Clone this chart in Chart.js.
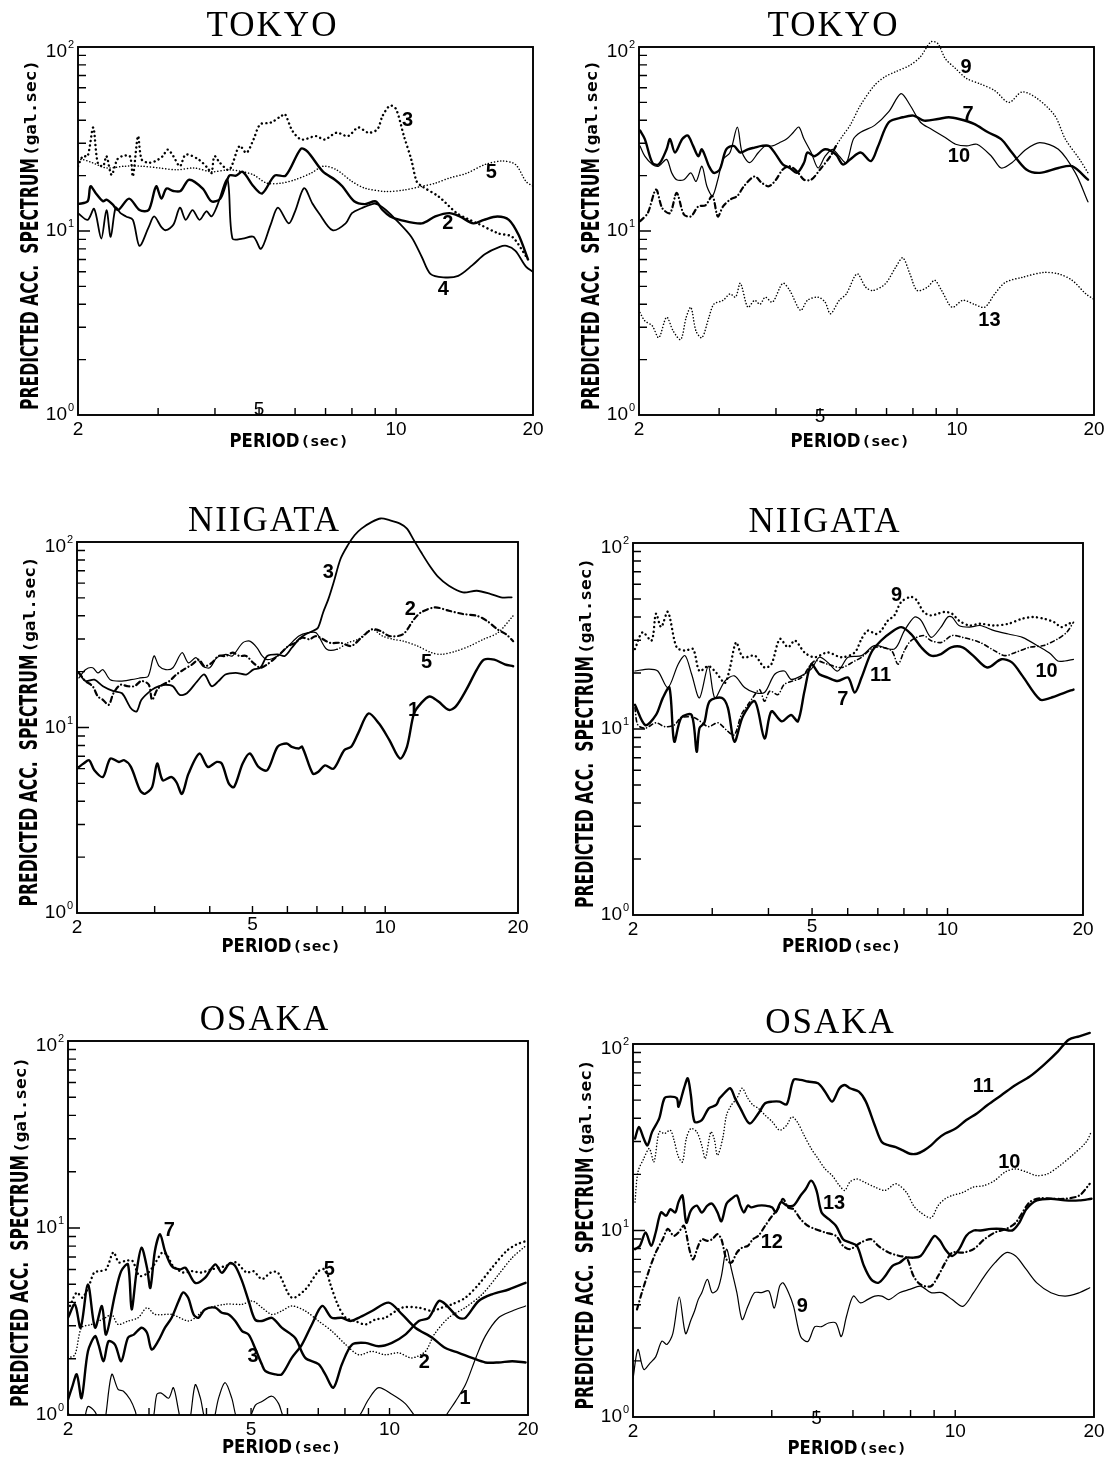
<!DOCTYPE html>
<html>
<head>
<meta charset="utf-8">
<title>Predicted acceleration spectra - Tokyo, Niigata, Osaka</title>
<script src="https://cdn.jsdelivr.net/npm/chart.js@4.4.1/dist/chart.umd.min.js"></script>
<style>
    html, body { margin: 0; padding: 0; background: #fff; }
    #figure { position: relative; width: 1110px; height: 1469px; overflow: hidden; background: #fff; }
    #figure canvas { position: absolute; }
</style>
</head>
<body>
<div id="figure"></div>
<script>
// Axis ticks shared by all six panels (log-log, period 2-20 s, spectrum 1-100 gal.sec)
const periodTicks = [2, 5, 10, 20];
const periodMinorTicks = [3, 4, 5, 6, 7, 8, 9, 10];
const accTicks = [1, 10, 100];
const accTickLabels = [['10', '0'], ['10', '1'], ['10', '2']];
const accMinorTicks = [2, 3, 4, 5, 6, 7, 8, 9, 10, 20, 30, 40, 50, 60, 70, 80, 90];

// Values are [period (sec), spectrum (gal.sec)].

// TOKYO, left
const tokyoA2 = [[2.0,14],[2.1,14.5],[2.13,17.5],[2.19,16],[2.27,14.5],[2.31,14.8],[2.38,14],[2.45,13],[2.59,15],[2.73,13],[2.86,13],[2.97,17.5],[3.05,15],[3.13,17],[3.24,16.5],[3.36,16.5],[3.51,19],[3.76,17],[3.93,14.5],[4.11,15],[4.3,20],[4.45,20],[4.6,21],[4.86,17.5],[5.08,16],[5.41,20],[5.72,20],[6.18,28],[6.39,27],[6.91,21],[7.34,19],[7.62,17.5],[8.09,14.5],[8.54,14],[9.02,14.5],[9.34,13],[9.71,12],[10.2,11.5],[11.4,11],[12.2,12],[13.1,12.5],[13.8,12],[14.8,11],[15.6,11.5],[16.7,12],[17.7,11.5],[18.6,9.5],[19.5,7]];
const tokyoA3 = [[2.0,22.5],[2.05,25.5],[2.1,25.5],[2.16,36.5],[2.21,23.5],[2.27,22.5],[2.31,25.5],[2.37,20.2],[2.44,24.5],[2.5,25.5],[2.6,25.5],[2.64,19.8],[2.71,32.8],[2.76,24.5],[2.86,23.5],[2.96,24],[3.07,25.5],[3.15,27.7],[3.24,25.5],[3.35,22.5],[3.45,26],[3.68,24.5],[3.86,21.9],[3.93,20.6],[3.99,25.5],[4.1,23.5],[4.3,21.5],[4.53,29],[4.69,26.6],[4.86,31.4],[5.03,38],[5.3,38.8],[5.6,42.2],[5.7,43.2],[5.92,35],[6.2,31.4],[6.67,32.8],[6.96,31.4],[7.4,34.2],[7.84,32.8],[8.26,36.5],[8.7,34.2],[9.1,35.7],[9.34,42.2],[9.7,48],[10.0,46],[10.4,33],[10.8,24.5],[11.1,18.6],[11.4,17.5],[12.4,15.4],[13.6,12.5],[14.3,11.7],[15.1,11],[16.8,9.7],[18.0,9.3],[19.3,7.3]];
const tokyoA4 = [[2.0,12.5],[2.1,11.5],[2.17,13.2],[2.25,9.1],[2.31,13],[2.36,9.3],[2.42,13.4],[2.48,12.5],[2.55,12],[2.64,11.5],[2.73,8.3],[2.86,10.5],[2.94,12],[3.05,10.5],[3.12,10.1],[3.24,10.8],[3.35,13.4],[3.45,11.5],[3.57,13],[3.7,11.5],[3.83,12.8],[3.93,12],[4.03,13.4],[4.26,19],[4.37,9.1],[4.6,9.1],[4.86,9.3],[5.05,8],[5.3,10.8],[5.5,13.4],[5.81,11],[6.0,12.8],[6.28,17.1],[6.55,14.1],[6.77,12.5],[7.25,10.1],[7.75,11],[8.0,12.5],[8.4,13.3],[8.95,14.1],[9.2,13.8],[9.5,13],[10,11.5],[10.8,9.3],[11.4,7.2],[11.9,5.85],[12.7,5.6],[13.7,5.7],[14.7,6.5],[15.7,7.5],[16.9,8.2],[17.5,8.3],[18.3,7.8],[19.3,6.4],[20,6.0]];
const tokyoA5 = [[2.0,24],[2.04,24.5],[2.15,23.5],[2.31,22],[2.53,22.5],[2.76,22.5],[3.02,22],[3.29,21.5],[3.6,22],[3.93,21],[4.3,21.5],[4.6,21],[4.86,20.2],[5.2,18.2],[5.6,18.2],[6.0,19],[6.5,20.6],[6.93,22.5],[7.4,21.5],[8.0,18.6],[8.54,17.1],[9.5,16.4],[10.4,16.7],[11.4,17.5],[12.2,18.2],[13.1,19.4],[14.3,20.6],[15.7,23],[17.1,24],[18.3,23],[19.3,18.6],[20,17.5]];
const tokyoALabels = [['3', 10.6, 40], ['2', 13, 11], ['5', 16.2, 20.7], ['4', 12.7, 4.84]];

// TOKYO, right
const tokyoB7 = [[2.01,35.2],[2.06,31.6],[2.14,23.5],[2.21,23],[2.3,27.8],[2.34,31.6],[2.4,26.7],[2.49,31.6],[2.56,33],[2.63,29],[2.7,25.5],[2.75,27.8],[2.85,22.5],[2.92,20.7],[3.01,21.6],[3.11,27.8],[3.23,29],[3.34,26.7],[3.47,27.8],[3.59,28.4],[3.72,29],[3.86,29],[4.0,26],[4.14,23],[4.29,22],[4.45,20.7],[4.61,23.5],[4.69,26.7],[4.86,25.5],[5.13,27.8],[5.42,26],[5.61,23],[5.82,24.5],[6.14,26.7],[6.47,24],[6.71,29],[7.08,39],[7.6,41.5],[8.02,42.4],[8.46,39.8],[9.08,40.6],[9.59,41.5],[10.1,40.6],[10.9,38.2],[11.7,34.4],[12.5,31.6],[13.2,26.7],[14.2,21.6],[15.2,20.7],[16.7,22],[17.9,22.5],[19.4,19]];
const tokyoB9 = [[2.01,11.3],[2.09,12.5],[2.18,16.8],[2.25,13.3],[2.34,12.5],[2.42,16.1],[2.51,12.3],[2.6,12],[2.7,13.6],[2.8,13.8],[2.9,15.5],[2.98,12],[3.06,13.6],[3.17,14.8],[3.29,15.5],[3.4,17.5],[3.59,19.8],[3.72,18.3],[3.86,17.5],[4.0,19],[4.14,21.6],[4.29,22.5],[4.45,21.1],[4.61,19],[4.78,19],[5.0,21.6],[5.27,25.5],[5.42,29],[5.61,33],[5.82,37.5],[6.14,48.4],[6.59,62],[6.95,69],[7.33,73.4],[7.88,79.6],[8.31,88.5],[8.77,106.8],[9.08,104.2],[9.42,86.6],[9.93,76.3],[10.5,67.4],[11.25,63],[12.1,58],[13,50],[13.9,57],[15,52.5],[16.4,42.4],[17.3,31.6],[18.6,24.5],[19.4,20.7]];
const tokyoB10 = [[2.01,29],[2.06,25.5],[2.14,23],[2.21,22.5],[2.3,24.5],[2.36,20.7],[2.42,19],[2.51,19],[2.6,20.7],[2.67,18.6],[2.75,22.5],[2.82,17.5],[2.9,15.5],[2.98,19],[3.06,24.5],[3.17,26.7],[3.29,36.7],[3.37,26.7],[3.5,23.5],[3.66,26.7],[3.79,29],[3.93,29],[4.07,30.2],[4.22,31.6],[4.37,34.4],[4.49,36.7],[4.61,31.6],[4.78,26.7],[4.95,22],[5.13,25.5],[5.32,27.8],[5.51,25.5],[5.71,23.5],[5.92,31.6],[6.14,34.4],[6.59,37.5],[7.08,44.5],[7.53,55.8],[7.88,48.4],[8.31,39],[8.77,35.8],[9.42,32.2],[9.93,29.6],[10.5,29],[11.06,29.6],[11.9,25.5],[12.5,22],[13.2,23.5],[14.2,27.8],[15.2,30.2],[16.7,27.8],[18.2,20.7],[19.4,14.4]];
const tokyoB13 = [[2.01,3.6],[2.06,3.25],[2.14,3.05],[2.21,2.63],[2.3,3.4],[2.38,2.85],[2.47,2.57],[2.54,3.4],[2.6,3.85],[2.67,2.85],[2.75,2.63],[2.85,3.4],[2.92,4.0],[3.06,4.2],[3.17,4.55],[3.26,4.37],[3.34,5.2],[3.47,3.85],[3.59,4.2],[3.69,4.0],[3.79,4.37],[3.93,4.1],[4.14,5.2],[4.29,4.75],[4.53,3.7],[4.69,4.2],[4.95,4.37],[5.13,4.1],[5.27,3.55],[5.51,4.2],[5.71,4.55],[6.03,5.85],[6.3,4.95],[6.53,4.75],[6.95,5.15],[7.33,6.35],[7.6,7.15],[7.88,5.85],[8.17,4.75],[8.61,4.95],[8.93,5.4],[9.25,4.75],[9.75,3.85],[10.3,4.2],[10.9,4.0],[11.5,3.85],[12.1,4.55],[12.76,5.25],[13.9,5.6],[15.5,5.95],[16.7,5.85],[17.9,5.4],[19.2,4.55],[20,4.25]];
const tokyoBLabels = [['9', 10.47, 77.6], ['7', 10.57, 43.1], ['10', 10.1, 25.5], ['13', 11.78, 3.25]];

// NIIGATA, left
const niigataA1 = [[2.02,6.13],[2.07,6.39],[2.13,6.66],[2.19,5.88],[2.29,5.41],[2.38,6.8],[2.49,6.52],[2.56,6.66],[2.65,6.13],[2.78,4.58],[2.85,4.39],[2.96,4.77],[3.04,6.39],[3.13,5.19],[3.27,5.41],[3.36,5.08],[3.46,4.39],[3.58,5.64],[3.79,7.24],[3.96,6.13],[4.15,6.52],[4.26,6.39],[4.42,4.98],[4.54,4.77],[4.75,6.39],[4.93,7.24],[5.16,6.13],[5.4,5.88],[5.7,7.87],[5.97,8.2],[6.14,7.87],[6.37,7.71],[6.48,7.87],[6.85,5.64],[7.04,5.75],[7.3,6.25],[7.64,6.0],[8.07,7.55],[8.37,7.87],[8.68,9.3],[9.16,11.9],[9.68,10.5],[10.22,8.55],[10.8,6.8],[11.2,7.87],[11.62,11.9],[12.05,13.5],[12.6,14.7],[13.2,13.8],[13.94,12.45],[14.46,13],[15.27,16],[16.13,20.5],[16.73,23.2],[17.67,23.2],[18.67,21.9],[19.5,21.4]];
const niigataA2 = [[2.02,19.7],[2.09,17.8],[2.17,16.7],[2.23,14.7],[2.29,14.1],[2.36,13.25],[2.42,15.3],[2.51,17],[2.6,16.7],[2.7,16.7],[2.8,17.8],[2.91,17],[2.96,14.1],[3.04,16],[3.13,17],[3.24,17.8],[3.36,19.3],[3.49,20.5],[3.65,21.9],[3.78,23.2],[3.89,21.4],[4.04,22.3],[4.19,24.3],[4.35,24.3],[4.51,25.3],[4.67,24.3],[4.84,24.3],[5.02,22.3],[5.21,21],[5.4,21.9],[5.64,23.8],[5.81,25.3],[6.03,27.5],[6.25,28.6],[6.48,30.5],[6.73,29.9],[6.97,31.1],[7.5,28.6],[7.92,28.6],[8.37,27.5],[8.83,30.5],[9.33,33.8],[9.77,33.1],[10.22,31.1],[10.97,31.8],[11.62,38.3],[12.05,41.7],[12.96,44.4],[13.94,42.6],[15.0,40.9],[16.13,40],[17.0,37.6],[17.97,33.8],[18.8,31.8],[19.5,29.2]];
const niigataA3 = [[2.02,19.7],[2.09,17.8],[2.19,18.1],[2.29,16.7],[2.42,15.7],[2.53,15.3],[2.65,12.7],[2.73,12.2],[2.8,14.1],[2.96,16],[3.07,16.7],[3.18,17],[3.3,16.7],[3.42,15],[3.55,15.3],[3.75,17.8],[3.89,19.3],[4.04,16.7],[4.19,17.8],[4.34,19.3],[4.58,19.7],[4.84,19.3],[5.02,20.5],[5.21,21],[5.4,24.3],[5.7,24.8],[5.92,24.3],[6.14,26.9],[6.37,29.9],[6.6,31.8],[6.85,33.1],[7.04,34.5],[7.23,41.7],[7.43,49.2],[7.64,60.7],[7.92,81.2],[8.22,95.9],[8.52,108.7],[8.83,118.1],[9.33,128.4],[9.77,133.9],[10.22,131.1],[10.8,125.7],[11.2,118.1],[11.62,102],[12.05,88.3],[12.6,74.7],[13.2,64.6],[13.94,58.1],[15.0,53.5],[16.13,54.6],[17.35,52.4],[18.3,50.3],[19.35,50.3]];
const niigataA5 = [[2.02,18.5],[2.09,20.5],[2.17,21],[2.23,19.7],[2.29,20.5],[2.38,18.1],[2.51,17.8],[2.65,18.1],[2.78,18.5],[2.9,18.9],[2.99,24.3],[3.07,21.4],[3.18,20.5],[3.3,21],[3.46,25.3],[3.58,22.3],[3.72,23.8],[3.86,21.4],[4.0,21],[4.15,23.8],[4.35,24.8],[4.5,24.3],[4.75,28.6],[4.93,29.2],[5.12,26.9],[5.26,24.3],[5.4,23.2],[5.7,24.3],[6.03,27.5],[6.37,31.1],[6.66,32.4],[6.97,32.4],[7.37,26.4],[7.78,26.4],[8.22,28.6],[8.68,29.9],[9.33,33.8],[9.86,31.1],[10.41,29.9],[11.0,29.2],[11.83,27.5],[12.73,25.3],[13.44,24.8],[14.46,25.8],[15.55,27.5],[16.7,29.9],[18.0,32.4],[19.5,40]];
const niigataALabels = [['3', 7.43, 68.7], ['2', 11.4, 43.5], ['5', 12.4, 22.3], ['1', 11.6, 12.4]];

// NIIGATA, right
const niigataB7 = [[2.02,13.5],[2.13,10.5],[2.25,11.9],[2.33,14.7],[2.41,16.7],[2.47,8.55],[2.56,11.5],[2.7,11.9],[2.77,7.55],[2.81,10.1],[2.88,10.8],[2.96,14.1],[3.15,14.7],[3.25,13],[3.36,8.55],[3.51,11.7],[3.73,14.1],[3.92,8.9],[4.06,12.45],[4.28,11],[4.49,11.9],[4.65,11],[4.81,16],[4.98,22.3],[5.19,19.7],[5.42,18.9],[5.7,18.1],[6.01,18.9],[6.22,15.7],[6.44,18.9],[6.77,25.8],[7.12,29.9],[7.5,33.1],[7.89,35.3],[8.3,32.4],[8.74,27.5],[9.19,24.8],[9.67,25.3],[10.19,27.5],[10.8,27.5],[11.4,24.8],[12.25,21.4],[13.17,23.7],[13.9,22.8],[14.67,19.3],[16.05,14.4],[16.95,14.7],[18.23,15.7],[19.05,16.3]];
const niigataB9 = [[2.02,26.9],[2.1,33.1],[2.2,29.9],[2.25,41.7],[2.31,35.3],[2.39,42.6],[2.5,27.5],[2.61,26.4],[2.72,26.9],[2.81,20.5],[2.94,21.8],[3.06,20.1],[3.2,17.7],[3.28,21],[3.39,29.2],[3.51,24.3],[3.73,24.8],[3.92,21.4],[4.06,22.3],[4.24,30.5],[4.42,27.5],[4.58,29.9],[4.81,25.8],[5.06,24.3],[5.42,25.8],[5.81,24.3],[6.22,25.8],[6.44,30.5],[6.65,33.8],[6.94,32.4],[7.12,33.8],[7.37,38.3],[7.62,40.8],[7.89,48.2],[8.3,51.3],[8.54,49.2],[8.85,42.6],[9.18,40.8],[9.52,41.7],[9.86,42.6],[10.23,41.7],[10.6,38.3],[11.19,36],[11.81,36.8],[12.7,36],[13.65,36.8],[14.67,39.2],[15.49,40],[16.35,39.2],[17.27,37.5],[17.9,35.3],[18.56,36.8],[19.05,37.5]];
const niigataB10 = [[2.02,20.5],[2.17,21],[2.27,20.5],[2.39,16.7],[2.52,22.3],[2.61,24.8],[2.7,19.7],[2.81,14.7],[2.94,21.8],[3.04,14.7],[3.2,18.1],[3.36,19.3],[3.54,16.7],[3.73,15.7],[3.92,15.7],[4.13,19.7],[4.34,20.5],[4.49,18.5],[4.73,19.3],[4.98,21],[5.19,24.3],[5.42,22.8],[5.7,20.5],[6.01,24.3],[6.44,24.8],[6.88,28.1],[7.62,26.9],[8.02,33.8],[8.45,40],[8.74,38.3],[9.19,31.1],[9.67,35.3],[10.01,40],[10.23,40],[10.6,36],[11.19,35.3],[11.81,36],[12.7,33.8],[13.65,32.4],[14.67,31.1],[16.05,27.5],[16.95,25.3],[17.58,23.2],[18.23,23.2],[19.05,23.7]];
const niigataB11 = [[2.02,13],[2.05,10.5],[2.13,10.1],[2.25,10.8],[2.35,10.3],[2.47,10.5],[2.56,11.5],[2.74,11.5],[2.94,10.3],[3.09,10.8],[3.25,9.7],[3.36,9.3],[3.48,11.9],[3.6,13.5],[3.69,14.7],[3.82,16.3],[3.92,14.1],[4.03,16],[4.2,15.3],[4.34,17.4],[4.73,18.9],[5.06,23.2],[5.42,22.3],[5.81,21.4],[6.22,23.2],[6.44,24.3],[6.88,27.5],[7.5,26.4],[7.76,22.3],[8.02,26.4],[8.3,29.9],[8.85,31.8],[9.18,29.9],[9.69,29.2],[10.23,31.8],[10.8,31.1],[11.81,29.2],[12.7,26.4],[13.41,24.8],[14.15,25.8],[15.21,27.5],[16.35,28.1],[17.58,30.5],[18.4,33.1],[19.05,37.5]];
const niigataBLabels = [['9', 7.7, 52], ['10', 16.6, 20.5], ['7', 5.85, 14.4], ['11', 7.1, 19.3]];

// OSAKA, left (curve 1 dips below the frame and is clipped there)
const osakaA1 = [[2.0,1.02],[2.15,0.9],[2.21,1.11],[2.29,1.04],[2.38,0.85],[2.41,0.95],[2.49,1.65],[2.57,1.37],[2.64,1.34],[2.73,1.21],[2.8,1.05],[2.87,0.85],[3.04,0.9],[3.12,1.29],[3.19,1.31],[3.31,1.23],[3.39,1.4],[3.48,1.05],[3.53,0.9],[3.65,0.85],[3.78,1.45],[3.88,1.23],[3.97,0.95],[4.1,0.85],[4.25,1.23],[4.39,1.49],[4.54,1.23],[4.66,0.95],[4.85,0.85],[5.11,1.13],[5.28,1.18],[5.55,1.26],[5.74,1.15],[5.88,0.98],[6.2,0.85],[8.0,0.85],[8.57,0.98],[9.0,1.21],[9.47,1.4],[10.12,1.29],[10.82,1.15],[11.38,0.98],[12.0,0.85],[12.9,0.85],[13.23,0.98],[13.9,1.18],[14.62,1.45],[15.4,2.02],[16.15,2.64],[17.26,3.31],[18.48,3.6],[19.76,3.83]];
const osakaA2 = [[2.0,2.02],[2.07,2.1],[2.14,2.93],[2.25,3.05],[2.41,3.31],[2.49,3.45],[2.57,3.05],[2.7,3.18],[2.84,3.31],[2.97,3.75],[3.09,3.45],[3.36,3.45],[3.65,3.18],[3.78,3.31],[3.97,3.67],[4.39,3.91],[4.78,3.91],[5.04,4.07],[5.28,3.75],[5.55,3.45],[5.83,3.6],[6.13,3.83],[6.56,3.6],[7.01,3.18],[7.49,2.81],[8.03,2.38],[8.57,2.1],[9.16,2.19],[9.78,2.1],[10.46,2.15],[11.18,2.02],[11.97,2.19],[12.5,2.69],[13.44,3.31],[14.6,3.75],[15.9,4.42],[17.26,5.64],[18.48,6.94],[19.76,8.02]];
const osakaA3 = [[2.0,1.21],[2.04,1.4],[2.09,1.65],[2.14,1.23],[2.21,2.19],[2.29,2.64],[2.33,2.38],[2.39,1.94],[2.45,2.48],[2.53,2.38],[2.61,1.94],[2.7,2.59],[2.78,2.69],[2.89,2.93],[2.97,2.75],[3.04,2.24],[3.14,2.48],[3.25,2.93],[3.36,3.31],[3.48,4.07],[3.56,4.52],[3.65,4.24],[3.75,3.45],[3.84,3.31],[3.97,3.67],[4.18,3.75],[4.32,3.52],[4.47,3.45],[4.62,3.18],[4.78,2.81],[4.94,2.69],[5.1,2.28],[5.28,1.86],[5.37,1.72],[5.64,1.65],[5.83,1.65],[6.13,2.02],[6.45,2.38],[6.78,3.05],[7.14,3.83],[7.49,3.31],[7.88,3.31],[8.22,3.18],[8.57,3.31],[9.16,3.6],[9.96,3.99],[10.65,3.45],[11.38,2.93],[12.38,2.59],[13.23,2.28],[14.14,2.15],[15.11,2.02],[16.15,1.91],[17.26,1.91],[18.48,1.94],[19.76,1.91]];
const osakaA5 = [[2.02,3.83],[2.09,4.52],[2.15,4.24],[2.22,4.9],[2.28,5.78],[2.34,5.88],[2.42,6.0],[2.51,7.41],[2.58,6.55],[2.67,6.68],[2.76,6.68],[2.86,5.55],[2.99,5.78],[3.1,6.55],[3.21,7.41],[3.29,7.11],[3.38,6.28],[3.56,5.78],[3.72,5.88],[3.89,5.78],[4.1,6.0],[4.4,6.26],[4.63,6.55],[4.89,5.78],[5.06,5.88],[5.28,5.33],[5.52,5.78],[5.72,5.78],[6.13,4.24],[6.56,4.69],[7.01,5.88],[7.25,6.0],[7.44,4.99],[7.71,3.91],[8.03,3.31],[8.42,3.18],[8.86,3.05],[9.31,3.24],[9.78,3.31],[10.65,3.75],[11.58,3.75],[12.38,3.6],[12.99,3.75],[13.68,3.91],[14.62,4.24],[15.62,4.99],[16.7,6.13],[17.96,7.53],[18.87,8.16],[19.76,8.5]];
const osakaA7 = [[2.0,3.31],[2.07,3.91],[2.13,2.93],[2.21,4.99],[2.29,2.93],[2.37,3.83],[2.42,2.69],[2.53,4.41],[2.61,5.88],[2.7,6.39],[2.75,3.67],[2.82,5.88],[2.89,7.85],[2.97,6.13],[3.02,4.78],[3.09,7.53],[3.17,9.26],[3.25,7.53],[3.36,6.26],[3.5,6.0],[3.6,6.13],[3.78,5.09],[3.97,5.41],[4.18,6.39],[4.32,5.76],[4.5,6.5],[4.62,6.26],[4.78,5.2],[4.94,4.07],[5.1,3.24],[5.28,3.18],[5.55,3.31],[5.83,2.93],[6.23,2.59],[6.56,2.02],[7.01,1.87],[7.25,1.65],[7.55,1.4],[7.88,1.87],[8.29,2.38],[8.86,2.43],[9.47,2.33],[10.12,2.43],[10.82,2.69],[11.58,3.18],[12.17,3.31],[12.8,4.07],[13.23,3.91],[14.14,3.31],[14.62,3.31],[15.62,4.07],[16.7,4.42],[18.16,4.69],[19.76,5.09]];
const osakaALabels = [['7', 3.32, 9.7], ['5', 7.4, 6.0], ['3', 5.05, 2.06], ['2', 11.9, 1.9], ['1', 14.6, 1.23]];

// OSAKA, right
const osakaB9 = [[2.0,1.6],[2.05,2.3],[2.11,1.8],[2.18,1.95],[2.24,2.1],[2.31,2.55],[2.37,2.45],[2.44,2.8],[2.52,4.4],[2.6,2.8],[2.67,3.3],[2.72,3.7],[2.77,4.26],[2.82,4.64],[2.9,5.47],[2.97,4.64],[3.05,4.83],[3.11,5.7],[3.19,7.94],[3.27,6.18],[3.36,4.64],[3.45,3.33],[3.55,3.92],[3.67,4.64],[3.8,4.64],[3.94,4.74],[4.05,3.84],[4.16,5.03],[4.23,5.24],[4.35,4.64],[4.46,3.92],[4.62,2.7],[4.79,2.54],[4.96,3.05],[5.13,3.05],[5.31,3.19],[5.51,3.19],[5.66,2.7],[5.81,3.47],[6.01,4.45],[6.23,4.09],[6.45,4.26],[6.69,4.45],[6.93,4.45],[7.18,4.26],[7.57,4.64],[7.97,4.83],[8.41,5.03],[8.86,4.64],[9.35,4.64],[9.85,4.26],[10.39,3.92],[10.96,4.64],[11.57,5.7],[12.2,6.72],[12.9,7.61],[13.52,7.3],[14.26,6.18],[15.03,5.24],[16.13,4.64],[17.31,4.45],[18.58,4.64],[19.58,4.93]];
const osakaB10 = [[2.02,14.2],[2.05,20.6],[2.11,24.3],[2.17,27.5],[2.22,23.3],[2.28,33.8],[2.34,33.1],[2.41,34.5],[2.45,31.1],[2.51,24.8],[2.56,23.3],[2.61,31.1],[2.67,35.2],[2.75,33.8],[2.82,28.6],[2.87,24.3],[2.95,33.8],[3.0,31.1],[3.05,25.3],[3.13,31.1],[3.19,41.5],[3.27,47.1],[3.36,51.1],[3.45,57.9],[3.55,51.1],[3.64,47.1],[3.74,45.2],[3.87,41.5],[4.01,38.3],[4.16,34.5],[4.31,36.7],[4.42,40.7],[4.54,38.3],[4.7,32.4],[4.87,27.5],[5.04,24.3],[5.22,21.4],[5.41,19.7],[5.61,17.4],[5.76,16.4],[5.91,18.2],[6.12,18.9],[6.34,18.2],[6.69,17.1],[7.05,16.4],[7.43,17.8],[7.84,16.0],[8.12,13.6],[8.41,12.5],[8.86,11.7],[9.18,13.6],[9.51,14.8],[9.85,15.4],[10.39,16.0],[10.95,17.1],[11.54,17.4],[12.17,18.5],[12.83,20.6],[13.52,21.4],[14.26,20.6],[15.03,19.7],[15.85,20.1],[16.71,21.9],[17.94,25.3],[19.23,29.8],[19.75,34]];
const osakaB11 = [[2.02,31.1],[2.06,35.9],[2.11,31.1],[2.15,28.6],[2.2,33.8],[2.28,39.9],[2.34,51.1],[2.41,52.2],[2.49,51.1],[2.51,46.1],[2.58,57.9],[2.63,65.5],[2.67,53.3],[2.72,38.3],[2.82,39.1],[2.92,45.2],[3.03,47.1],[3.08,51.1],[3.13,53.3],[3.25,57.9],[3.33,51.1],[3.42,45.2],[3.58,37.5],[3.74,42.4],[3.87,48.1],[4.01,49.1],[4.16,49.1],[4.31,47.5],[4.46,64.2],[4.62,64.2],[4.79,62.9],[5.04,61.6],[5.22,55.5],[5.41,49.1],[5.61,57.9],[5.76,60.3],[5.91,57.9],[6.18,55.5],[6.4,49.1],[6.69,36.7],[6.93,29.8],[7.18,28.6],[7.43,28],[7.7,26.9],[7.97,25.8],[8.26,25.8],[8.56,26.9],[8.86,28.6],[9.18,31.1],[9.51,33.1],[10.02,35.2],[10.57,39.1],[11.14,42.4],[11.75,47.1],[12.61,53.3],[13.52,60.3],[14.51,66.9],[15.57,77.3],[16.71,91.3],[17.62,105.5],[18.58,110],[19.58,114.6]];
const osakaB12 = [[2.04,3.77],[2.09,4.64],[2.17,6.18],[2.24,7.61],[2.32,8.98],[2.38,10.2],[2.45,9.36],[2.51,9.76],[2.58,10.6],[2.65,7.94],[2.7,7.0],[2.77,8.27],[2.82,8.98],[2.9,8.8],[2.97,8.98],[3.05,9.56],[3.11,8.98],[3.19,7.0],[3.27,6.72],[3.36,7.61],[3.45,8.1],[3.55,8.27],[3.64,8.98],[3.74,9.36],[3.87,10.6],[4.01,12.0],[4.12,13.0],[4.23,14.8],[4.34,13.3],[4.46,13.0],[4.62,11.5],[4.79,10.6],[4.96,10.2],[5.22,9.76],[5.51,9.36],[5.71,8.27],[5.91,7.94],[6.23,8.6],[6.57,8.98],[6.81,8.27],[7.18,7.61],[7.57,7.3],[7.84,7.15],[8.12,5.7],[8.41,5.13],[8.86,5.03],[9.18,5.7],[9.51,6.72],[9.85,7.61],[10.39,7.61],[10.96,7.94],[11.57,8.98],[12.2,9.76],[12.9,10.2],[13.52,11.0],[14.51,14.2],[15.3,14.9],[16.13,14.8],[17.31,14.8],[18.58,15.4],[19.58,17.8]];
const osakaB13 = [[2.02,7.94],[2.07,8.27],[2.13,9.76],[2.19,8.27],[2.24,9.76],[2.3,12.5],[2.36,12.0],[2.41,13.0],[2.47,12.5],[2.51,14.2],[2.56,15.4],[2.61,11.0],[2.67,12.8],[2.75,13.6],[2.82,12.5],[2.9,13.6],[2.97,13.9],[3.05,12.5],[3.11,11.2],[3.19,13.9],[3.27,14.8],[3.36,15.4],[3.42,13.6],[3.48,12.5],[3.55,13.6],[3.61,13.3],[3.74,13.6],[3.87,13.6],[4.01,13.3],[4.08,12.5],[4.19,14.2],[4.31,13.6],[4.46,13.6],[4.62,15.4],[4.74,16.7],[4.87,18.5],[5.0,16.4],[5.13,12.5],[5.32,11.5],[5.51,10.6],[5.71,8.98],[5.91,8.62],[6.12,8.27],[6.34,6.45],[6.57,5.47],[6.81,5.24],[7.05,5.7],[7.3,6.45],[7.57,6.72],[7.84,7.15],[8.12,7.15],[8.41,7.3],[8.71,8.27],[9.02,9.36],[9.27,8.8],[9.51,7.94],[9.85,7.3],[10.2,7.94],[10.57,9.36],[10.96,10.0],[11.34,10.0],[11.96,10.2],[12.61,10.2],[13.29,10.0],[13.77,11.0],[14.26,13.0],[15.03,14.5],[16.13,14.8],[17.31,14.5],[18.58,14.5],[19.75,14.8]];
const osakaBLabels = [['11', 11.5, 59], ['10', 13.1, 23.3], ['13', 5.46, 13.9], ['12', 4.0, 8.6], ['9', 4.66, 3.9]];

// Line looks of the plotter pens
const lineStyles =
{
    thick:        { width: 2.4, dash: [] },
    medium:       { width: 1.8, dash: [] },
    thin:         { width: 1.2, dash: [] },
    dotted:       { width: 1.5, dash: [0.1, 3] },
    heavyDot:     { width: 2.4, dash: [0.1, 4.4] },
    dashDot:      { width: 2.2, dash: [5, 3.5, 0.1, 3.5] },
    dashDotLight: { width: 1.6, dash: [4, 3, 0.1, 3] }
};

// Where each panel's plot box sits on the page: [left, top, right, bottom]
const panels =
[
    {
        title: 'TOKYO', frame: [78, 47, 533, 415], fiveDy: -5, periodDy: 27, labels: tokyoALabels,
        curves: [
            { points: tokyoA3, style: 'heavyDot' },
            { points: tokyoA5, style: 'dotted' },
            { points: tokyoA4, style: 'medium' },
            { points: tokyoA2, style: 'thick' }
        ]
    },
    {
        title: 'TOKYO', frame: [639, 47, 1094, 415], fiveDy: 2, periodDy: 27, labels: tokyoBLabels,
        curves: [
            { points: tokyoB13, style: 'dotted' },
            { points: tokyoB9, style: 'dashDot', after: { from: 5.3, style: 'dotted' }, noClip: true },
            { points: tokyoB10, style: 'thin' },
            { points: tokyoB7, style: 'thick' }
        ]
    },
    {
        title: 'NIIGATA', frame: [77, 542, 518, 913], fiveDy: 12, periodDy: 34, labels: niigataALabels,
        curves: [
            { points: niigataA2, style: 'dashDot' },
            { points: niigataA5, style: 'thin', after: { from: 7.6, style: 'dotted' } },
            { points: niigataA3, style: 'medium', noClip: true },
            { points: niigataA1, style: 'thick' }
        ]
    },
    {
        title: 'NIIGATA', frame: [633, 543, 1083, 915], fiveDy: 12, periodDy: 32, labels: niigataBLabels,
        curves: [
            { points: niigataB9, style: 'heavyDot' },
            { points: niigataB11, style: 'dashDotLight' },
            { points: niigataB10, style: 'thin' },
            { points: niigataB7, style: 'thick' }
        ]
    },
    {
        title: 'OSAKA', frame: [68, 1041, 528, 1415], fiveDy: 15, periodDy: 33, labels: osakaALabels,
        curves: [
            { points: osakaA5, style: 'heavyDot' },
            { points: osakaA2, style: 'dotted' },
            { points: osakaA1, style: 'thin' },
            { points: osakaA3, style: 'thick' },
            { points: osakaA7, style: 'thick' }
        ]
    },
    {
        title: 'OSAKA', frame: [633, 1044, 1094, 1417], fiveDy: 2, periodDy: 32, labels: osakaBLabels,
        curves: [
            { points: osakaB10, style: 'dotted' },
            { points: osakaB12, style: 'dashDot' },
            { points: osakaB9, style: 'thin' },
            { points: osakaB13, style: 'thick' },
            { points: osakaB11, style: 'thick', noClip: true }
        ]
    }
];

// Room round the plot box inside each canvas, for titles and axis text
const PAD = { left: 66, right: 14, top: 46, bottom: 48 };

class SpectrumPanel
{
    constructor(panel)
    {
        this.panel = panel;
        this.canvas = this.CreateCanvas();
        this.ChartData();
    }

    CreateCanvas()
    {
        const [left, top, right, bottom] = this.panel.frame;
        const canvas = document.createElement('canvas');
        const width = right - left + PAD.left + PAD.right;
        const height = bottom - top + PAD.top + PAD.bottom;
        canvas.width = width;
        canvas.height = height;
        canvas.style.width = width + 'px';
        canvas.style.height = height + 'px';
        canvas.style.left = (left - PAD.left) + 'px';
        canvas.style.top = (top - PAD.top) + 'px';
        document.getElementById('figure').appendChild(canvas);
        return canvas;
    }

    BuildDatasets()
    {
        return this.panel.curves.map(curve =>
        {
            const style = lineStyles[curve.style];
            const dataset =
            {
                data: curve.points.map(([period, acc]) => ({ x: period, y: acc })),
                borderColor: '#000',
                borderWidth: style.width,
                borderDash: style.dash,
                borderCapStyle: 'round',
                borderJoinStyle: 'round',
                pointRadius: 0,
                tension: 0.3,
                fill: false
            };

            if (curve.noClip)
            {
                dataset.clip = false; // these curves run up past the top of the box
            }

            // Some pens change look part way along (dash-dot turning to dots, solid turning to dots)
            if (curve.after)
            {
                const later = lineStyles[curve.after.style];
                const from = curve.after.from;
                dataset.segment =
                {
                    borderDash: ctx => (ctx.p0.parsed.x >= from ? later.dash : style.dash),
                    borderWidth: ctx => (ctx.p0.parsed.x >= from ? later.width : style.width)
                };
            }
            return dataset;
        });
    }

    ChartData()
    {
        const self = this;

        new Chart(this.canvas,
        {
            type: 'line',
            data: { datasets: this.BuildDatasets() },
            options:
            {
                responsive: false,
                animation: false,
                events: [],
                layout: { padding: { left: PAD.left, right: PAD.right, top: PAD.top, bottom: PAD.bottom } },
                plugins: { legend: { display: false }, tooltip: { enabled: false } },
                scales:
                {
                    x: { type: 'logarithmic', min: 2, max: 20, display: false },
                    y: { type: 'logarithmic', min: 1, max: 100, display: false }
                }
            },
            plugins:
            [
                {
                    id: 'spectrumDecor',
                    afterDatasetsDraw(chart)
                    {
                        self.DrawDecor(chart);
                    }
                }
            ]
        });
    }

    // Draws text squeezed or stretched to a set length, left edge at x
    FitText(ctx, text, font, x, y, length)
    {
        ctx.font = font;
        const natural = ctx.measureText(text).width;
        ctx.save();
        ctx.translate(x, y);
        ctx.scale(length / natural, 1);
        ctx.fillText(text, 0, 0);
        ctx.restore();
    }

    DrawDecor(chart)
    {
        const ctx = chart.ctx;
        const area = chart.chartArea;
        const xScale = chart.scales.x;
        const yScale = chart.scales.y;
        const panel = this.panel;
        const midX = (area.left + area.right) / 2;
        const midY = (area.top + area.bottom) / 2;

        ctx.save();
        ctx.fillStyle = '#000';
        ctx.strokeStyle = '#000';

        // Box round the plot
        ctx.lineWidth = 1.9;
        ctx.strokeRect(area.left, area.top, area.right - area.left, area.bottom - area.top);

        // Tick marks point inwards from the left and bottom edges
        ctx.lineWidth = 1.4;
        ctx.beginPath();
        accMinorTicks.forEach(v =>
        {
            const py = yScale.getPixelForValue(v);
            ctx.moveTo(area.left, py);
            ctx.lineTo(area.left + (v === 10 ? 12 : 8), py);
        });
        periodMinorTicks.forEach(p =>
        {
            const px = xScale.getPixelForValue(p);
            ctx.moveTo(px, area.bottom);
            ctx.lineTo(px, area.bottom - 7);
        });
        ctx.stroke();

        // Period tick labels; the "5" sits a little higher in the original
        ctx.font = '19px "Liberation Sans", Arial, sans-serif';
        ctx.textAlign = 'center';
        ctx.textBaseline = 'middle';
        periodTicks.forEach(p =>
        {
            const dy = (p === 5) ? panel.fiveDy : 15;
            ctx.fillText(String(p), xScale.getPixelForValue(p), area.bottom + dy);
        });

        // Powers of ten on the spectrum axis
        accTicks.forEach((v, i) =>
        {
            const py = Math.max(yScale.getPixelForValue(v), area.top + 5);
            ctx.font = '19px "Liberation Sans", Arial, sans-serif';
            ctx.textAlign = 'right';
            ctx.fillText(accTickLabels[i][0], area.left - 11, py);
            ctx.font = '11px "Liberation Sans", Arial, sans-serif';
            ctx.textAlign = 'left';
            ctx.fillText(accTickLabels[i][1], area.left - 10, py - 7);
        });

        // Axis titles in the narrow, heavy plotter lettering
        ctx.textAlign = 'left';
        ctx.textBaseline = 'middle';
        const periodLeft = midX - 16.5 - 59.5;
        this.FitText(ctx, 'PERIOD', 'bold 20px "DejaVu Sans", sans-serif', periodLeft, area.bottom + panel.periodDy, 70);
        this.FitText(ctx, '(sec)', 'bold 14px "DejaVu Sans Mono", monospace', periodLeft + 71, area.bottom + panel.periodDy, 48);

        ctx.save();
        ctx.translate(area.left - 46, midY + 4);
        ctx.rotate(-Math.PI / 2);
        this.FitText(ctx, 'PREDICTED ACC.  SPECTRUM', 'bold 24px "DejaVu Sans", sans-serif', -175, 0, 252);
        this.FitText(ctx, '(gal.sec)', 'bold 15px "DejaVu Sans Mono", monospace', 79, 0, 96);
        ctx.restore();

        // City name above the box
        ctx.font = '35px "Liberation Serif", "Times New Roman", serif';
        ctx.textAlign = 'center';
        ctx.letterSpacing = '2px';
        ctx.fillText(panel.title, midX - 33, area.top - 20);
        ctx.letterSpacing = '0px';

        // Earthquake numbers written beside the curves
        ctx.font = 'bold 20px "Liberation Sans", Arial, sans-serif';
        panel.labels.forEach(([text, period, acc]) =>
        {
            ctx.fillText(text, xScale.getPixelForValue(period), yScale.getPixelForValue(acc));
        });

        ctx.restore();
    }
}

panels.forEach(panel => new SpectrumPanel(panel));
</script>
</body>
</html>
